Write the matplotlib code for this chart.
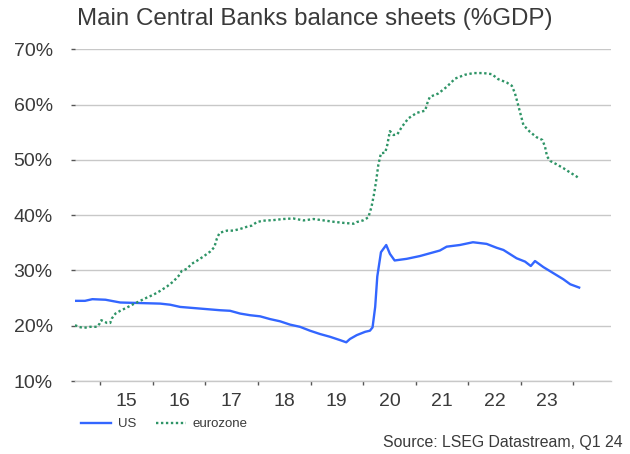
import matplotlib
matplotlib.use("Agg")
import matplotlib.pyplot as plt
from matplotlib.lines import Line2D
from matplotlib.ticker import FixedLocator, NullFormatter, FixedFormatter

plt.rcParams["font.family"] = ["Liberation Sans", "DejaVu Sans"]

# US Federal Reserve balance sheet, % of GDP (decimal year, value)
us_t = [2014.52, 2014.71, 2014.85, 2015.10, 2015.38, 2016.14, 2016.33, 2016.52,
        2016.90, 2017.28, 2017.47, 2017.66, 2017.85, 2018.04, 2018.23, 2018.42,
        2018.61, 2018.80, 2018.99, 2019.18, 2019.37, 2019.56, 2019.68, 2019.75,
        2019.88, 2020.04, 2020.13, 2020.18, 2020.23, 2020.27, 2020.34, 2020.44,
        2020.51, 2020.60, 2020.83, 2021.08, 2021.27, 2021.46, 2021.59, 2021.84,
        2022.09, 2022.35, 2022.54, 2022.67, 2022.92, 2023.08, 2023.19, 2023.27,
        2023.43, 2023.62, 2023.81, 2023.94, 2024.11]
us_v = [24.5, 24.5, 24.8, 24.7, 24.2, 24.0, 23.8, 23.4,
        23.1, 22.8, 22.7, 22.2, 21.9, 21.7, 21.2, 20.8,
        20.2, 19.8, 19.1, 18.5, 18.0, 17.4, 17.0, 17.6,
        18.3, 18.9, 19.1, 19.7, 23.4, 28.9, 33.3, 34.6,
        33.0, 31.8, 32.1, 32.6, 33.1, 33.6, 34.3, 34.6,
        35.1, 34.8, 34.1, 33.7, 32.2, 31.6, 30.8, 31.7,
        30.6, 29.5, 28.4, 27.5, 26.9]

# Eurosystem balance sheet, % of GDP (decimal year, value)
ez_t = [2014.52, 2014.59, 2014.68, 2014.81, 2014.94, 2014.99, 2015.02, 2015.13,
        2015.19, 2015.22, 2015.29, 2015.38, 2015.51, 2015.63, 2015.76, 2015.89,
        2016.01, 2016.14, 2016.27, 2016.39, 2016.49, 2016.55, 2016.65, 2016.74,
        2016.84, 2016.96, 2017.09, 2017.17, 2017.22, 2017.27, 2017.41, 2017.53,
        2017.66, 2017.79, 2017.88, 2017.98, 2018.10, 2018.29, 2018.48, 2018.67,
        2018.87, 2019.06, 2019.25, 2019.44, 2019.63, 2019.82, 2019.88, 2020.00,
        2020.10, 2020.16, 2020.21, 2020.25, 2020.29, 2020.34, 2020.42, 2020.46,
        2020.51, 2020.58, 2020.65, 2020.74, 2020.86, 2021.02, 2021.18, 2021.22,
        2021.27, 2021.43, 2021.59, 2021.75, 2021.94, 2022.10, 2022.29, 2022.45,
        2022.57, 2022.73, 2022.83, 2022.89, 2022.95, 2023.00, 2023.05, 2023.17,
        2023.30, 2023.41, 2023.46, 2023.50, 2023.56, 2023.68, 2023.81, 2023.94,
        2024.06, 2024.11]
ez_v = [20.1, 19.8, 19.6, 19.8, 19.8, 20.4, 21.0, 20.5,
        20.5, 21.3, 22.2, 22.7, 23.3, 23.9, 24.5, 25.1,
        25.6, 26.3, 27.1, 28.0, 29.0, 29.9, 30.3, 31.2,
        31.75, 32.5, 33.4, 34.2, 35.8, 36.8, 37.2, 37.2,
        37.5, 37.9, 38.1, 38.75, 39.0, 39.1, 39.3, 39.4,
        39.05, 39.3, 39.05, 38.8, 38.6, 38.45, 38.75, 39.05,
        39.6, 41.5, 43.9, 46.3, 49.1, 51.2, 51.3, 52.7,
        55.2, 54.5, 54.6, 56.0, 57.5, 58.5, 58.9, 60.2,
        61.4, 62.0, 63.2, 64.7, 65.4, 65.7, 65.7, 65.5,
        64.6, 64.0, 63.4, 62.0, 59.9, 58.1, 56.3, 55.1,
        54.1, 53.6, 52.4, 50.6, 49.8, 49.2, 48.5, 47.7,
        47.0, 46.6]

years = list(range(2015, 2025))
year_labels = ["15", "16", "17", "18", "19", "20", "21", "22", "23"]
y_ticks = [10, 20, 30, 40, 50, 60, 70]

US_COLOR = "#3366ff"
EZ_COLOR = "#2e9466"
TEXT_COLOR = "#3a3a3a"
GRID_COLOR = "#c8c8c8"

fig = plt.figure(figsize=(6.3, 4.54), dpi=100)
ax = fig.add_axes([75 / 630, 1 - 381 / 454, (610.7 - 75) / 630, (381 - 49.3) / 454])

ax.plot(us_t, us_v, color=US_COLOR, lw=1.7, solid_joinstyle="round", zorder=3)
ax.plot(ez_t, ez_v, color=EZ_COLOR, lw=1.7, linestyle=(0, (1, 1.1)),
        dash_capstyle="butt", zorder=3)

ax.set_xlim(2014.52, 2024.71)
ax.set_ylim(10, 70)

for s in ["top", "right", "left"]:
    ax.spines[s].set_visible(False)
ax.spines["bottom"].set_color(GRID_COLOR)
ax.spines["bottom"].set_linewidth(1.0)

ax.set_yticks(y_ticks)
ax.set_yticklabels([f"{v}%" for v in y_ticks])
ax.yaxis.grid(True, color=GRID_COLOR, lw=1.0)
ax.set_axisbelow(True)
ax.tick_params(axis="y", length=3, width=1, color="#555555", pad=13,
               labelsize=14, labelcolor=TEXT_COLOR)

# year boundaries as ticks, year labels centred between them
ax.xaxis.set_major_locator(FixedLocator(years))
ax.xaxis.set_major_formatter(NullFormatter())
ax.xaxis.set_minor_locator(FixedLocator([y + 0.5 for y in years[:-1]]))
ax.xaxis.set_minor_formatter(FixedFormatter(year_labels))
ax.tick_params(axis="x", which="major", length=3, width=1, color="#555555")
ax.tick_params(axis="x", which="minor", length=0, pad=9, labelsize=14,
               labelcolor=TEXT_COLOR)

fig.text(77 / 630, 1 - 19 / 454, "Main Central Banks balance sheets (%GDP)",
         fontsize=17.4, color=TEXT_COLOR, va="center", ha="left")

handles = [Line2D([], [], color=US_COLOR, lw=1.7),
           Line2D([], [], color=EZ_COLOR, lw=1.7, linestyle=(0, (1, 1.1)))]
fig.legend(handles, ["US", "eurozone"], loc="center left",
           bbox_to_anchor=(69 / 630, 1 - 424 / 454), ncol=2, frameon=False,
           fontsize=9.5, handlelength=2.3, handletextpad=0.5, columnspacing=1.5,
           labelcolor=TEXT_COLOR)

fig.text(623 / 630, 1 - 443 / 454, "Source: LSEG Datastream, Q1 24",
         fontsize=11.4, color=TEXT_COLOR, ha="right", va="center")

fig.savefig("out.png", dpi=100)
